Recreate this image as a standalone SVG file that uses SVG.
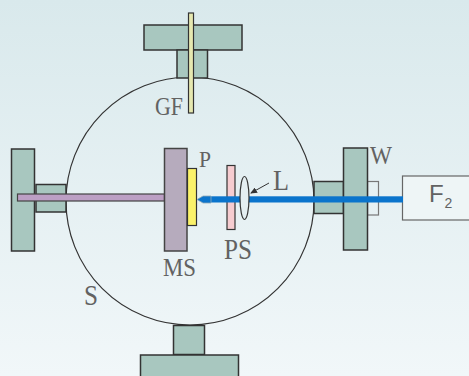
<svg xmlns="http://www.w3.org/2000/svg" width="469" height="376" viewBox="0 0 469 376">
<style>
.m{fill:#a8c7bf;stroke:#333;stroke-width:1.5}
.t{font-family:"Liberation Serif",serif;font-size:26px;fill:#626262}
.f{font-family:"Liberation Sans",sans-serif;fill:#626262}
</style>
<defs>
<linearGradient id="bg" x1="0" y1="0" x2="0" y2="1"><stop offset="0" stop-color="#d9e9ec"/><stop offset="1" stop-color="#f1f7f9"/></linearGradient>
<marker id="ah" markerWidth="7" markerHeight="6" refX="6" refY="3" orient="auto" markerUnits="userSpaceOnUse"><path d="M0 0L7 3L0 6z" fill="#333"/></marker>
</defs>
<rect id="background" width="469" height="376" fill="url(#bg)"/>
<g id="S"><circle cx="190" cy="201" r="124" fill="none" stroke="#333" stroke-width="1.2"/><text class="t" style="font-size:30px" x="84" y="305" textLength="14" lengthAdjust="spacingAndGlyphs">S</text></g>
<g id="top-port"><rect class="m" x="144" y="25" width="98" height="25"/><rect class="m" x="177" y="50" width="30.500" height="28"/></g>
<g id="left-port"><rect class="m" x="11.500" y="149" width="23" height="102"/><rect class="m" x="36" y="184.500" width="30" height="27.500"/></g>
<g id="bottom-port"><rect class="m" x="173.500" y="325.500" width="31" height="29"/><rect class="m" x="140.500" y="355" width="98" height="23"/></g>
<g id="W"><rect class="m" x="314" y="181.500" width="29.500" height="32"/><rect x="367.500" y="181.500" width="11" height="33.500" fill="none" stroke="#777" stroke-width="1.200"/><rect class="m" x="343.500" y="148" width="24" height="102"/><text class="t" x="370" y="164" textLength="22" lengthAdjust="spacingAndGlyphs">W</text></g>
<g id="GF"><rect x="188.500" y="13" width="5" height="100" fill="#e6e8b0" stroke="#333" stroke-width="1.200"/><text class="t" x="155" y="115" textLength="28" lengthAdjust="spacingAndGlyphs">GF</text></g>
<g id="rod"><rect x="17.500" y="194" width="147" height="7" fill="#bc9fc4" stroke="#444" stroke-width="1.200"/></g>
<g id="MS"><rect x="164.500" y="148.500" width="22.500" height="102.500" fill="#b6abbd" stroke="#444" stroke-width="1.500"/><text class="t" x="163" y="276" textLength="33" lengthAdjust="spacingAndGlyphs">MS</text></g>
<g id="P"><rect x="187.500" y="168.500" width="9" height="57" fill="#fbf26a" stroke="#333" stroke-width="1.200"/><text class="t" style="font-size:24px" x="199" y="167" textLength="12" lengthAdjust="spacingAndGlyphs">P</text></g>
<g id="PS"><rect x="227" y="165.500" width="8" height="64" fill="#f6ccd0" stroke="#333" stroke-width="1.200"/><text class="t" style="font-size:29px" x="224" y="259" textLength="28" lengthAdjust="spacingAndGlyphs">PS</text></g>
<g id="F2"><rect x="402.500" y="176" width="70" height="44" fill="#eef5f6" stroke="#666" stroke-width="1.200"/><text class="f" x="429" y="202" font-size="24">F</text><text class="f" x="444.500" y="208" font-size="14">2</text></g>
<g id="connectors">
<rect x="211" y="196.300" width="192" height="6.200" fill="#0a74cc"/>
<path d="M197 199.500L203 196H211V203H203z" fill="#0a74cc" stroke="#8fa9b8" stroke-width=".8"/>
<path d="M269 183L251 193" fill="none" stroke="#333" stroke-width="1" marker-end="url(#ah)"/>
</g>
<g id="L"><ellipse cx="244.500" cy="198" rx="4.500" ry="21.500" fill="#e4eef1" stroke="#333" stroke-width="1.200"/><text class="t" style="font-size:29px" x="273" y="190" textLength="16" lengthAdjust="spacingAndGlyphs">L</text></g>
</svg>
